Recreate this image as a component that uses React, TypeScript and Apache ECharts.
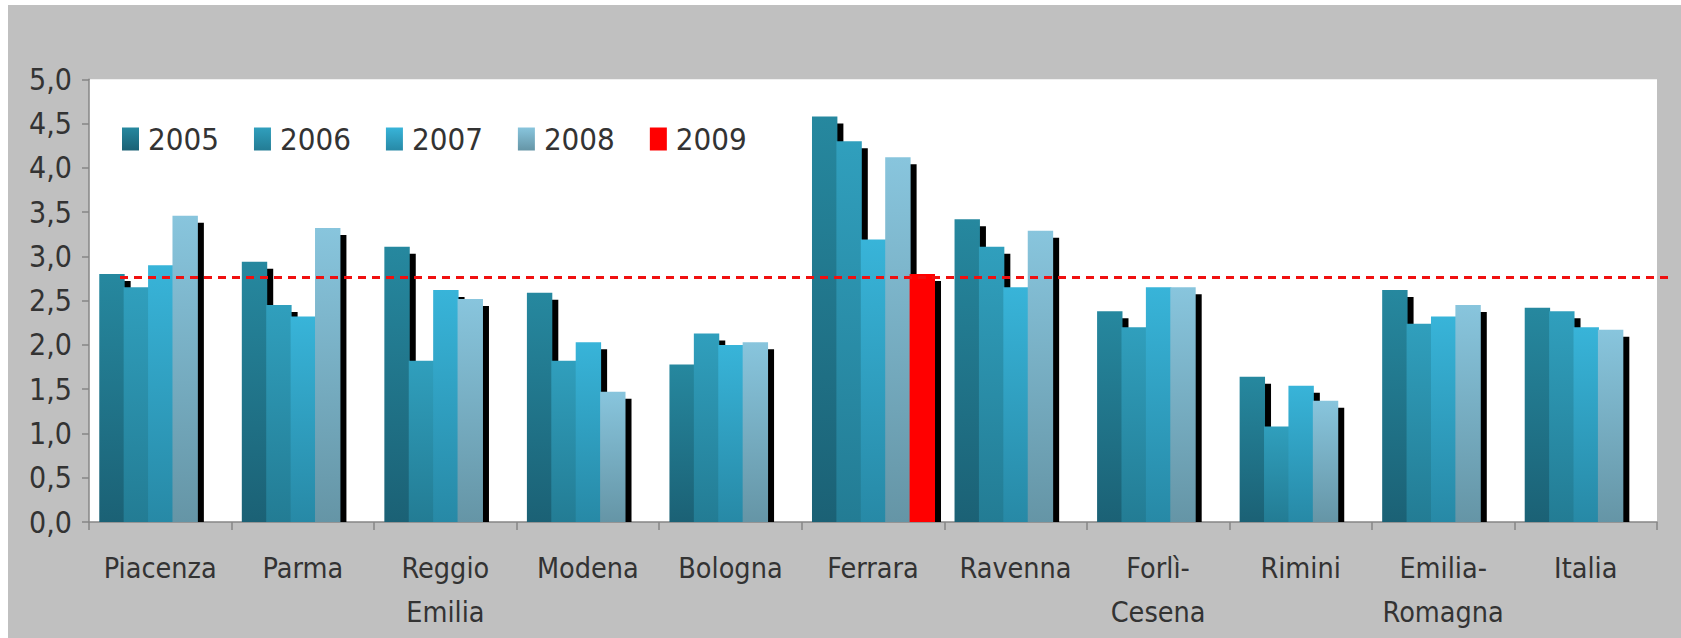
import React, { useEffect, useRef } from "react";
import * as echarts from "echarts";

const categories = [
  "Piacenza",
  "Parma",
  "Reggio\nEmilia",
  "Modena",
  "Bologna",
  "Ferrara",
  "Ravenna",
  "Forlì-\nCesena",
  "Rimini",
  "Emilia-\nRomagna",
  "Italia",
];
const years = ["2005", "2006", "2007", "2008", "2009"];
const v2005 = [2.8, 2.94, 3.11, 2.59, 1.78, 4.58, 3.42, 2.38, 1.64, 2.62, 2.42];
const v2006 = [2.65, 2.45, 1.82, 1.82, 2.13, 4.3, 3.11, 2.2, 1.08, 2.24, 2.38];
const v2007 = [2.9, 2.32, 2.62, 2.03, 2.0, 3.19, 2.65, 2.65, 1.54, 2.32, 2.2];
const v2008 = [3.46, 3.32, 2.52, 1.47, 2.03, 4.12, 3.29, 2.65, 1.37, 2.45, 2.17];
const v2009 = [null, null, null, null, null, 2.8, null, null, null, null, null];
const referenceLine = 2.76;
const yTicks = [0, 0.5, 1, 1.5, 2, 2.5, 3, 3.5, 4, 4.5, 5];

const seriesValues = [v2005, v2006, v2007, v2008, v2009];
const gradientStops = [
  ["#26889f", "#1b6175"],
  ["#309fbd", "#237c94"],
  ["#38b4d9", "#2789a6"],
  ["#88c5dd", "#6595a6"],
  ["#ff0000", "#ff0000"],
];

const FONT = "'Liberation Sans Narrow', 'DejaVu Sans Condensed', 'Noto Sans', sans-serif";

export default function App() {
  const ref = useRef<HTMLDivElement>(null);

  useEffect(() => {
    if (!ref.current) return;
    const chart = echarts.init(ref.current, undefined, { renderer: "svg" });
    const nSeries = years.length;
    const groupRatio = 0.856;
    const shadowOff = 7;

    const grads = gradientStops.map(
      ([a, b]) =>
        new echarts.graphic.LinearGradient(0, 0, 0, 1, [
          { offset: 0, color: a },
          { offset: 1, color: b },
        ])
    );

    const series: any[] = years.map((year, si) => {
      const vals = seriesValues[si];
      const data = vals
        .map((v, i) => (v == null ? null : [i, v]))
        .filter((d) => d !== null);
      const s: any = {
        type: "custom",
        name: year,
        data,
        encode: { x: 0, y: 1 },
        itemStyle: { color: grads[si] },
        renderItem: (params: any, api: any) => {
          const ci = api.value(0);
          const v = api.value(1);
          const base = api.coord([ci, 0]);
          const top = api.coord([ci, v]);
          const cw = api.size([1, 0])[0];
          const bw = (cw * groupRatio) / nSeries;
          const x = base[0] - (cw * groupRatio) / 2 + si * bw;
          const h = base[1] - top[1];
          return {
            type: "group",
            children: [
              {
                type: "rect",
                shape: { x: x + shadowOff, y: top[1] + shadowOff, width: bw, height: Math.max(0, h - shadowOff) },
                style: { fill: "#000" },
              },
              {
                type: "rect",
                shape: { x, y: top[1], width: bw + 1, height: h },
                style: {
                  fill: new echarts.graphic.LinearGradient(0, 0, 0, 1, [
                    { offset: 0, color: gradientStops[si][0] },
                    { offset: 1, color: gradientStops[si][1] },
                  ]),
                },
              },
            ],
          };
        },
      };
      if (si === nSeries - 1) {
        s.markLine = {
          silent: true,
          symbol: ["none", "none"],
          z: 10,
          label: { show: false },
          lineStyle: { color: "#f01010", type: [8, 6], width: 3 },
          data: [[{ x: 120, yAxis: referenceLine }, { x: 1674, yAxis: referenceLine }]],
        };
      }
      return s;
    });

    chart.setOption({
      animation: false,
      backgroundColor: "transparent",
      textStyle: { fontFamily: FONT },
      graphic: [
        {
          type: "rect",
          z: -10,
          shape: { x: 8, y: 5, width: 1673, height: 633 },
          style: { fill: "#c0c0c0" },
        },
      ],
      legend: {
        left: 122,
        top: 119,
        padding: 0,
        itemWidth: 17,
        itemHeight: 23,
        itemGap: 35,
        icon: "rect",
        data: years.map((y, i) => ({ name: y, itemStyle: { color: grads[i] } })),
        textStyle: {
          fontFamily: FONT,
          fontSize: 31,
          lineHeight: 40,
          color: "#333333",
          padding: [0, 0, 0, 4],
        },
      },
      grid: {
        left: 89,
        right: 24,
        top: 79.3,
        bottom: 116,
        show: true,
        backgroundColor: "#ffffff",
        borderWidth: 0,
      },
      xAxis: {
        type: "category",
        data: categories,
        axisLine: { show: true, lineStyle: { color: "#868686", width: 1.5 } },
        axisTick: { show: true, length: 8, lineStyle: { color: "#868686", width: 1.5 } },
        axisLabel: {
          interval: 0,
          fontFamily: FONT,
          fontSize: 28.5,
          lineHeight: 44,
          margin: 24,
          color: "#333333",
        },
        splitLine: { show: false },
      },
      yAxis: {
        type: "value",
        min: yTicks[0],
        max: yTicks[yTicks.length - 1],
        interval: 0.5,
        axisLine: { show: true, lineStyle: { color: "#868686", width: 1.5 } },
        axisTick: { show: true, length: 7, lineStyle: { color: "#868686", width: 1.5 } },
        axisLabel: {
          fontFamily: FONT,
          fontSize: 30,
          margin: 17,
          color: "#333333",
          formatter: (v: number) => v.toFixed(1).replace(".", ","),
        },
        splitLine: { show: false },
      },
      series,
    });

    return () => chart.dispose();
  }, []);

  return (
    <div style={{ position: "fixed", left: 0, top: 0, width: 1681, height: 638, background: "#ffffff" }}>
      <div ref={ref} style={{ width: 1681, height: 638 }} />
    </div>
  );
}
